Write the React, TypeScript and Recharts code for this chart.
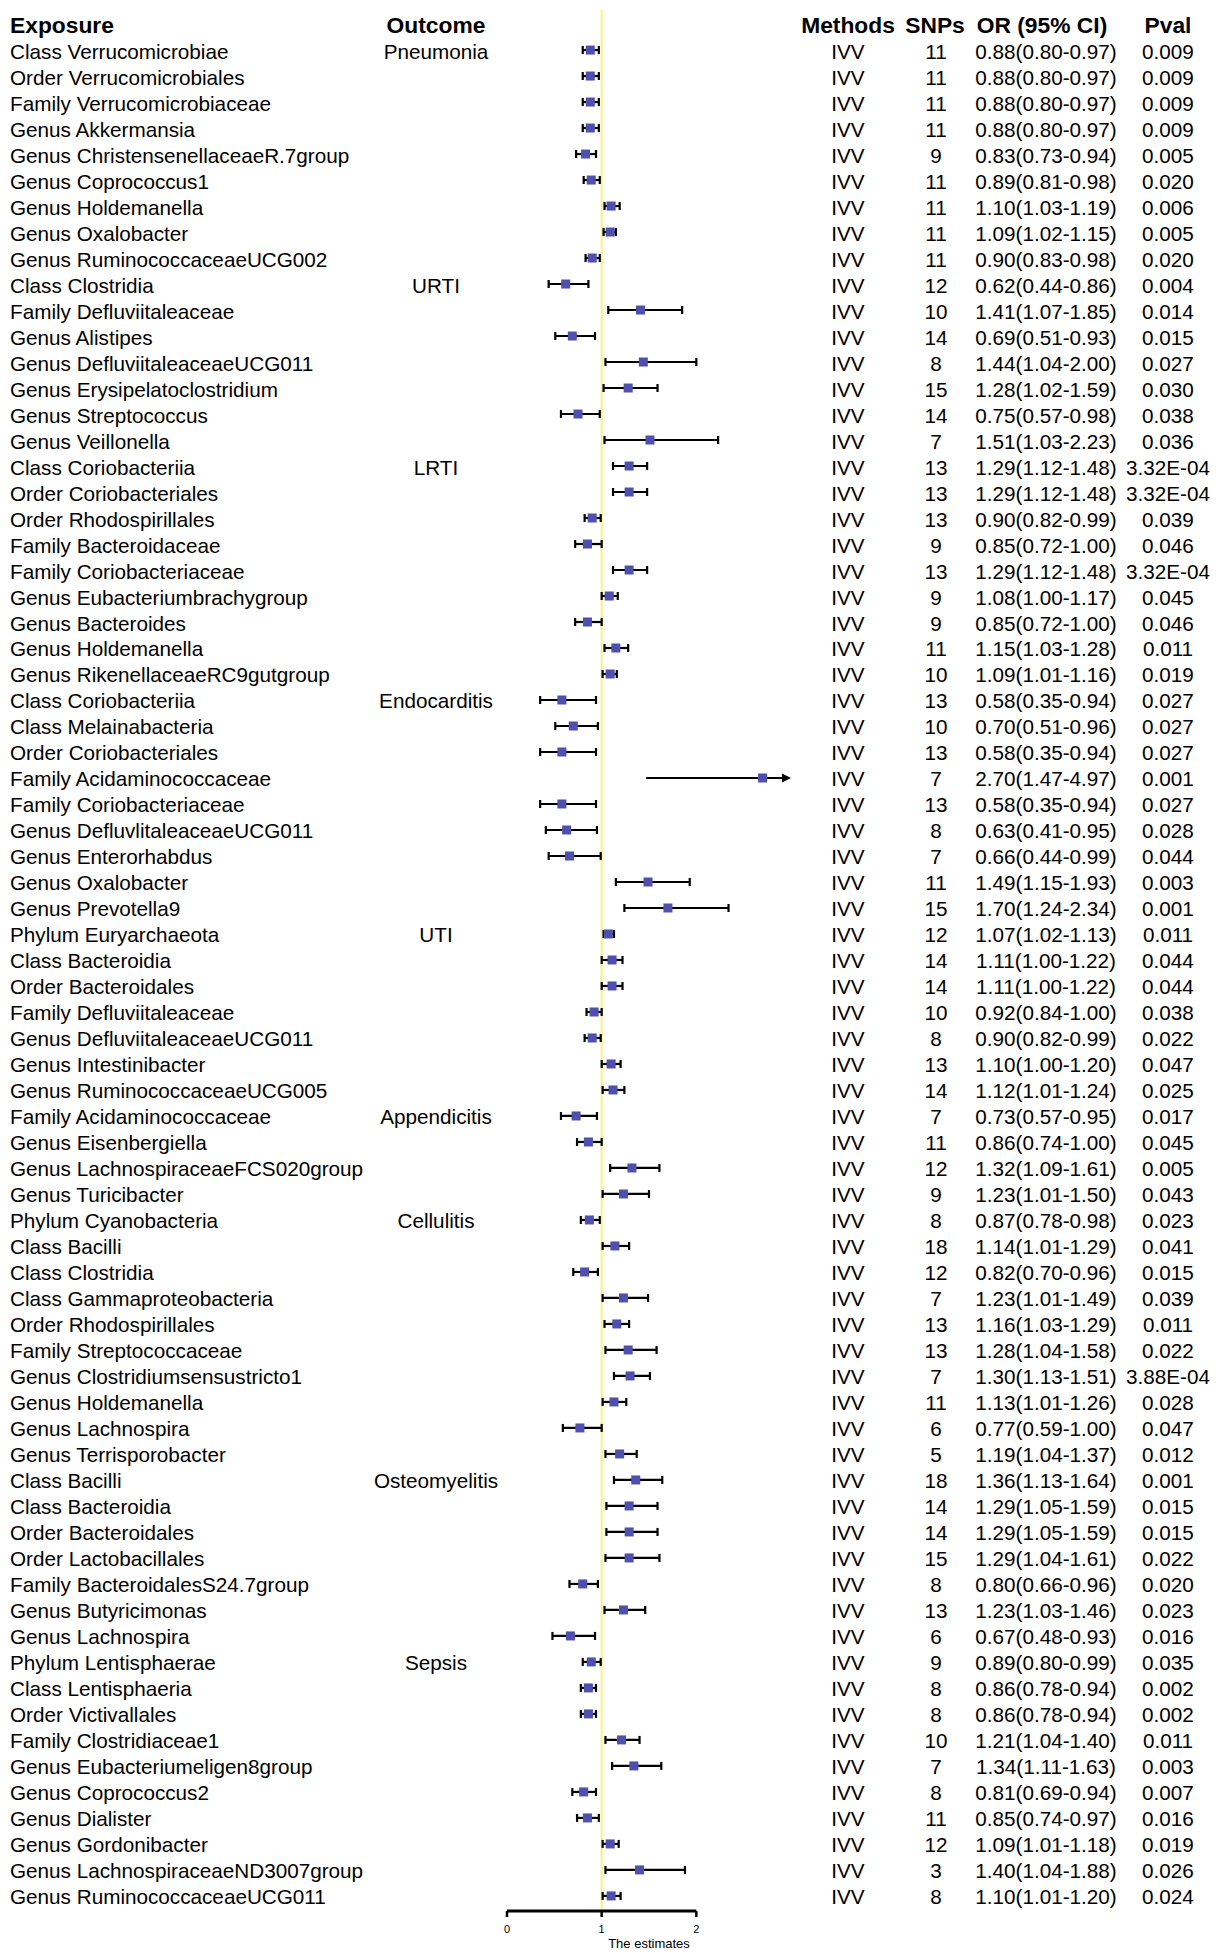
import React from "react"
import {
  ScatterChart, Scatter, XAxis, YAxis, ErrorBar, ReferenceLine,
} from "recharts"

// one entry per row, top to bottom
const exposures = [
  "Class Verrucomicrobiae", "Order Verrucomicrobiales", "Family Verrucomicrobiaceae", "Genus Akkermansia",
  "Genus ChristensenellaceaeR.7group", "Genus Coprococcus1", "Genus Holdemanella", "Genus Oxalobacter",
  "Genus RuminococcaceaeUCG002",
  "Class Clostridia", "Family Defluviitaleaceae", "Genus Alistipes", "Genus DefluviitaleaceaeUCG011",
  "Genus Erysipelatoclostridium", "Genus Streptococcus", "Genus Veillonella",
  "Class Coriobacteriia", "Order Coriobacteriales", "Order Rhodospirillales", "Family Bacteroidaceae",
  "Family Coriobacteriaceae", "Genus Eubacteriumbrachygroup", "Genus Bacteroides", "Genus Holdemanella",
  "Genus RikenellaceaeRC9gutgroup",
  "Class Coriobacteriia", "Class Melainabacteria", "Order Coriobacteriales", "Family Acidaminococcaceae",
  "Family Coriobacteriaceae", "Genus DefluvlitaleaceaeUCG011", "Genus Enterorhabdus", "Genus Oxalobacter",
  "Genus Prevotella9",
  "Phylum Euryarchaeota", "Class Bacteroidia", "Order Bacteroidales", "Family Defluviitaleaceae",
  "Genus DefluviitaleaceaeUCG011", "Genus Intestinibacter", "Genus RuminococcaceaeUCG005",
  "Family Acidaminococcaceae", "Genus Eisenbergiella", "Genus LachnospiraceaeFCS020group", "Genus Turicibacter",
  "Phylum Cyanobacteria", "Class Bacilli", "Class Clostridia", "Class Gammaproteobacteria",
  "Order Rhodospirillales", "Family Streptococcaceae", "Genus Clostridiumsensustricto1", "Genus Holdemanella",
  "Genus Lachnospira", "Genus Terrisporobacter",
  "Class Bacilli", "Class Bacteroidia", "Order Bacteroidales", "Order Lactobacillales",
  "Family BacteroidalesS24.7group", "Genus Butyricimonas", "Genus Lachnospira",
  "Phylum Lentisphaerae", "Class Lentisphaeria", "Order Victivallales", "Family Clostridiaceae1",
  "Genus Eubacteriumeligen8group", "Genus Coprococcus2", "Genus Dialister", "Genus Gordonibacter",
  "Genus LachnospiraceaeND3007group", "Genus RuminococcaceaeUCG011",
]

// outcome label shown on the first row of each group (row index from 0)
const outcomeStarts: [number, string][] = [
  [0, "Pneumonia"], [9, "URTI"], [16, "LRTI"], [25, "Endocarditis"], [34, "UTI"],
  [41, "Appendicitis"], [45, "Cellulitis"], [55, "Osteomyelitis"], [62, "Sepsis"],
]

const snps = [
  11, 11, 11, 11, 9, 11, 11, 11, 11,
  12, 10, 14, 8, 15, 14, 7,
  13, 13, 13, 9, 13, 9, 9, 11, 10,
  13, 10, 13, 7, 13, 8, 7, 11, 15,
  12, 14, 14, 10, 8, 13, 14,
  7, 11, 12, 9,
  8, 18, 12, 7, 13, 13, 7, 11, 6, 5,
  18, 14, 14, 15, 8, 13, 6,
  9, 8, 8, 10, 7, 8, 11, 12, 3, 8,
]

const orValues = [
  0.88, 0.88, 0.88, 0.88, 0.83, 0.89, 1.10, 1.09, 0.90,
  0.62, 1.41, 0.69, 1.44, 1.28, 0.75, 1.51,
  1.29, 1.29, 0.90, 0.85, 1.29, 1.08, 0.85, 1.15, 1.09,
  0.58, 0.70, 0.58, 2.70, 0.58, 0.63, 0.66, 1.49, 1.70,
  1.07, 1.11, 1.11, 0.92, 0.90, 1.10, 1.12,
  0.73, 0.86, 1.32, 1.23,
  0.87, 1.14, 0.82, 1.23, 1.16, 1.28, 1.30, 1.13, 0.77, 1.19,
  1.36, 1.29, 1.29, 1.29, 0.80, 1.23, 0.67,
  0.89, 0.86, 0.86, 1.21, 1.34, 0.81, 0.85, 1.09, 1.40, 1.10,
]

const lowerCI = [
  0.80, 0.80, 0.80, 0.80, 0.73, 0.81, 1.03, 1.02, 0.83,
  0.44, 1.07, 0.51, 1.04, 1.02, 0.57, 1.03,
  1.12, 1.12, 0.82, 0.72, 1.12, 1.00, 0.72, 1.03, 1.01,
  0.35, 0.51, 0.35, 1.47, 0.35, 0.41, 0.44, 1.15, 1.24,
  1.02, 1.00, 1.00, 0.84, 0.82, 1.00, 1.01,
  0.57, 0.74, 1.09, 1.01,
  0.78, 1.01, 0.70, 1.01, 1.03, 1.04, 1.13, 1.01, 0.59, 1.04,
  1.13, 1.05, 1.05, 1.04, 0.66, 1.03, 0.48,
  0.80, 0.78, 0.78, 1.04, 1.11, 0.69, 0.74, 1.01, 1.04, 1.01,
]

const upperCI = [
  0.97, 0.97, 0.97, 0.97, 0.94, 0.98, 1.19, 1.15, 0.98,
  0.86, 1.85, 0.93, 2.00, 1.59, 0.98, 2.23,
  1.48, 1.48, 0.99, 1.00, 1.48, 1.17, 1.00, 1.28, 1.16,
  0.94, 0.96, 0.94, 4.97, 0.94, 0.95, 0.99, 1.93, 2.34,
  1.13, 1.22, 1.22, 1.00, 0.99, 1.20, 1.24,
  0.95, 1.00, 1.61, 1.50,
  0.98, 1.29, 0.96, 1.49, 1.29, 1.58, 1.51, 1.26, 1.00, 1.37,
  1.64, 1.59, 1.59, 1.61, 0.96, 1.46, 0.93,
  0.99, 0.94, 0.94, 1.40, 1.63, 0.94, 0.97, 1.18, 1.88, 1.20,
]

const pvals = [
  "0.009", "0.009", "0.009", "0.009", "0.005", "0.020", "0.006", "0.005", "0.020",
  "0.004", "0.014", "0.015", "0.027", "0.030", "0.038", "0.036",
  "3.32E-04", "3.32E-04", "0.039", "0.046", "3.32E-04", "0.045", "0.046", "0.011", "0.019",
  "0.027", "0.027", "0.027", "0.001", "0.027", "0.028", "0.044", "0.003", "0.001",
  "0.011", "0.044", "0.044", "0.038", "0.022", "0.047", "0.025",
  "0.017", "0.045", "0.005", "0.043",
  "0.023", "0.041", "0.015", "0.039", "0.011", "0.022", "3.88E-04", "0.028", "0.047", "0.012",
  "0.001", "0.015", "0.015", "0.022", "0.020", "0.023", "0.016",
  "0.035", "0.002", "0.002", "0.011", "0.003", "0.007", "0.016", "0.019", "0.026", "0.024",
]

const xTicks = [0, 1, 2]
const X_MAX = 3 // anything beyond is drawn as an arrow
const ROW_MIN = -0.54
const ROW_MAX = 72.58

const FONT = "'Liberation Sans', Arial, sans-serif"
const SQUARE = "#4f4fae"

const outcomeByRow: Record<number, string> = {}
outcomeStarts.forEach(([i, name]) => { outcomeByRow[i] = name })

const rows = exposures.map((name, i) => ({
  row: i + 1,
  or: orValues[i],
  err: upperCI[i] > X_MAX ? undefined : [orValues[i] - lowerCI[i], upperCI[i] - orValues[i]],
}))

const clipped = exposures
  .map((_, i) => ({ row: i + 1, lo: lowerCI[i], hi: upperCI[i] }))
  .filter((d) => d.hi > X_MAX)

const rowTicks = [0, ...rows.map((r) => r.row)]

// every column of the table is drawn from the row tick
function RowText(props: any) {
  const { y, payload } = props
  const r = payload.value as number
  const common = { y: y + 1, dominantBaseline: "central" as const, fontFamily: FONT, fill: "#000" }
  if (r === 0) {
    const h = { ...common, fontSize: 22.8, fontWeight: 700 }
    return (
      <g>
        <text {...h} x={10}>Exposure</text>
        <text {...h} x={436} textAnchor="middle">Outcome</text>
        <text {...h} x={848} textAnchor="middle">Methods</text>
        <text {...h} x={935} textAnchor="middle">SNPs</text>
        <text {...h} x={1042} textAnchor="middle">OR (95% CI)</text>
        <text {...h} x={1168} textAnchor="middle">Pval</text>
      </g>
    )
  }
  const i = r - 1
  const t = { ...common, fontSize: 20.7 }
  return (
    <g>
      <text {...t} x={10}>{exposures[i]}</text>
      <text {...t} x={436} textAnchor="middle">{outcomeByRow[i] ?? ""}</text>
      <text {...t} x={848} textAnchor="middle">IVV</text>
      <text {...t} x={936} textAnchor="middle">{snps[i]}</text>
      <text {...t} x={1046} textAnchor="middle">
        {`${orValues[i].toFixed(2)}(${lowerCI[i].toFixed(2)}-${upperCI[i].toFixed(2)})`}
      </text>
      <text {...t} x={1168} textAnchor="middle">{pvals[i]}</text>
    </g>
  )
}

const Square = (props: any) => {
  const { cx, cy } = props
  return <rect x={cx - 4.5} y={cy - 4.5} width={9} height={9} fill={SQUARE} />
}

const ArrowLine = (props: any) => {
  const { x1, y1, x2, y2 } = props
  return (
    <g>
      <line x1={x1} y1={y1} x2={x2 - 6} y2={y2} stroke="#000" strokeWidth={2} />
      <path d={`M${x2},${y2} L${x2 - 9},${y2 - 4.5} L${x2 - 9},${y2 + 4.5} Z`} fill="#000" />
    </g>
  )
}

export default function App() {
  return (
    <div style={{ position: "absolute", left: 0, top: 0, width: 1220, height: 1958, background: "#fff" }}>
      <ScatterChart width={1220} height={1958} margin={{ top: 10, right: 429, bottom: 0, left: 0 }}>
        <XAxis
          type="number"
          dataKey="or"
          domain={[0, X_MAX]}
          ticks={xTicks}
          interval={0}
          height={47}
          axisLine={false}
          tickLine={{ stroke: "#000", strokeWidth: 2.5 }}
          tickSize={6}
          tickMargin={8}
          tick={{ fontSize: 11, fill: "#000", fontFamily: FONT }}
          label={{ value: "The estimates", position: "insideBottom", offset: 10, fontSize: 13, fill: "#000", fontFamily: FONT }}
        />
        <YAxis
          type="number"
          dataKey="row"
          domain={[ROW_MIN, ROW_MAX]}
          reversed
          ticks={rowTicks}
          interval={0}
          width={507}
          axisLine={false}
          tickLine={false}
          tick={<RowText />}
        />
        <ReferenceLine x={1} stroke="#f6f37c" strokeWidth={2} />
        <ReferenceLine
          segment={[{ x: 0, y: ROW_MAX }, { x: 2, y: ROW_MAX }]}
          stroke="#000"
          strokeWidth={3}
          ifOverflow="visible"
        />
        {clipped.map((d) => (
          <ReferenceLine
            key={d.row}
            segment={[{ x: d.lo, y: d.row }, { x: X_MAX, y: d.row }]}
            shape={<ArrowLine />}
            ifOverflow="visible"
          />
        ))}
        <Scatter data={rows} shape={<Square />} isAnimationActive={false}>
          <ErrorBar dataKey="err" direction="x" width={4} stroke="#000" strokeWidth={2.2} isAnimationActive={false} />
        </Scatter>
      </ScatterChart>
    </div>
  )
}
